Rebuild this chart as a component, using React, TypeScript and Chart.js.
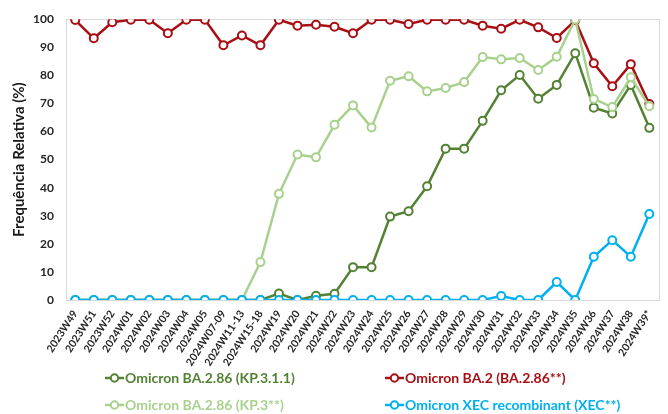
import React, { useEffect, useRef } from "react";
import { Chart, registerables } from "chart.js";

Chart.register(...registerables);

const categories = [
  "2023W49", "2023W51", "2023W52", "2024W01", "2024W02", "2024W03", "2024W04", "2024W05",
  "2024W07-09", "2024W11-13", "2024W15-18", "2024W19", "2024W20", "2024W21", "2024W22", "2024W23",
  "2024W24", "2024W25", "2024W26", "2024W27", "2024W28", "2024W29", "2024W30", "2024W31",
  "2024W32", "2024W33", "2024W34", "2024W35", "2024W36", "2024W37", "2024W38", "2024W39*",
];

const kp311Values = [
  0, 0, 0, 0, 0, 0, 0, 0, 0, 0, 0, 2.3, 0, 1.5, 2.2, 11.7,
  11.7, 29.7, 31.6, 40.5, 53.9, 53.9, 63.8, 74.7, 80.1, 71.7, 76.6, 87.9, 68.5, 66.4, 76.6, 61.3,
];
const ba2Values = [
  99.7, 93.2, 98.9, 99.8, 99.8, 95.0, 99.8, 99.8, 90.7, 94.2, 90.7, 99.8, 97.7, 98.0, 97.3, 95.0,
  99.8, 99.8, 98.3, 99.8, 99.8, 99.8, 97.7, 96.6, 99.8, 97.1, 93.3, 99.6, 84.3, 76.1, 84.0, 69.8,
];
const kp3Values = [
  0, 0, 0, 0, 0, 0, 0, 0, 0, 0, 13.5, 37.8, 51.8, 50.8, 62.4, 69.3,
  61.4, 78.1, 79.7, 74.3, 75.5, 77.6, 86.5, 85.7, 86.2, 81.9, 86.6, 99.9, 71.6, 68.7, 79.3, 69.0,
];
const xecValues = [
  0, 0, 0, 0, 0, 0, 0, 0, 0, 0, 0, 0, 0, 0, 0, 0,
  0, 0, 0, 0, 0, 0, 0, 1.4, 0, 0, 6.4, 0, 15.4, 21.3, 15.4, 30.6,
];

const seriesNames = [
  "Omicron BA.2.86 (KP.3.1.1)",
  "Omicron BA.2 (BA.2.86**)",
  "Omicron BA.2.86 (KP.3**)",
  "Omicron XEC recombinant (XEC**)",
];
const seriesColors = ["#548235", "#A80F14", "#A9D18E", "#00B0F0"];

const FONT = "Lato, 'Open Sans', sans-serif";

const plotBox = {
  id: "plotBox",
  beforeDatasetsDraw(chart: any) {
    const { ctx, chartArea } = chart;
    ctx.save();
    ctx.strokeStyle = "#D9D9D9";
    ctx.lineWidth = 1;
    ctx.strokeRect(
      Math.round(chartArea.left) + 0.5,
      Math.round(chartArea.top) + 0.5,
      Math.round(chartArea.right - chartArea.left),
      Math.round(chartArea.bottom - chartArea.top)
    );
    ctx.restore();
  },
};

function LegendItem({ x, y, color, text }: { x: number; y: number; color: string; text: string }) {
  return (
    <div
      style={{
        position: "absolute",
        left: x,
        top: y - 10,
        height: 20,
        display: "flex",
        alignItems: "center",
        whiteSpace: "nowrap",
      }}
    >
      <svg width={21} height={20} style={{ display: "block" }}>
        <line x1={1} y1={10} x2={20} y2={10} stroke={color} strokeWidth={2.5} />
        <circle cx={10.5} cy={10} r={3.7} fill="#fff" stroke={color} strokeWidth={2} />
      </svg>
      <span
        style={{
          fontFamily: FONT,
          fontWeight: 700,
          fontSize: 14,
          color,
          lineHeight: "20px",
        }}
      >
        {text}
      </span>
    </div>
  );
}

export default function App() {
  const ref = useRef<HTMLCanvasElement | null>(null);

  useEffect(() => {
    if (!ref.current) return;
    const mk = (i: number, data: number[], order: number) => ({
      label: seriesNames[i],
      data,
      borderColor: seriesColors[i],
      backgroundColor: seriesColors[i],
      pointBackgroundColor: "#FFFFFF",
      pointBorderColor: seriesColors[i],
      pointBorderWidth: 2,
      pointRadius: 4,
      borderWidth: 2.5,
      tension: 0,
      order,
    });
    const chart = new Chart(ref.current, {
      type: "line",
      data: {
        labels: categories,
        datasets: [
          mk(0, kp311Values, 4),
          mk(1, ba2Values, 3),
          mk(2, kp3Values, 2),
          mk(3, xecValues, 1),
        ],
      },
      options: {
        responsive: false,
        animation: false,
        layout: { padding: { top: 15, right: 7, left: 0, bottom: 0 } },
        plugins: {
          legend: { display: false },
          tooltip: { enabled: false },
        },
        scales: {
          x: {
            type: "category",
            offset: true,
            grid: { display: false, drawTicks: false },
            border: { display: true, color: "#D9D9D9", width: 1 },
            ticks: {
              autoSkip: false,
              minRotation: 57,
              maxRotation: 57,
              padding: 8,
              color: "#262626",
              font: { family: FONT, size: 10.5, weight: "bold" },
            },
            afterFit: (s: any) => {
              s.height = 114;
            },
          },
          y: {
            min: 0,
            max: 100,
            grid: { display: false, drawTicks: false },
            border: { display: true, color: "#D9D9D9", width: 1 },
            ticks: {
              stepSize: 10,
              padding: 12,
              color: "#262626",
              font: { family: FONT, size: 12, weight: "bold" },
            },
            title: {
              display: true,
              text: "Frequência Relativa (%)",
              color: "#1A1A1A",
              font: { family: FONT, size: 15, weight: "bold" },
              padding: { top: 10, bottom: 0 },
            },
            afterFit: (s: any) => {
              s.width = 66;
            },
          },
        },
      },
      plugins: [plotBox],
    } as any);
    return () => chart.destroy();
  }, []);

  return (
    <div
      style={{
        position: "absolute",
        left: 0,
        top: 0,
        width: 668,
        height: 414,
        background: "#FFFFFF",
        overflow: "hidden",
      }}
    >
      <canvas ref={ref} width={668} height={414} style={{ width: 668, height: 414, display: "block" }} />
      <LegendItem x={104} y={378} color={seriesColors[0]} text={seriesNames[0]} />
      <LegendItem x={384} y={378} color={seriesColors[1]} text={seriesNames[1]} />
      <LegendItem x={104} y={405} color={seriesColors[2]} text={seriesNames[2]} />
      <LegendItem x={384} y={405} color={seriesColors[3]} text={seriesNames[3]} />
    </div>
  );
}
